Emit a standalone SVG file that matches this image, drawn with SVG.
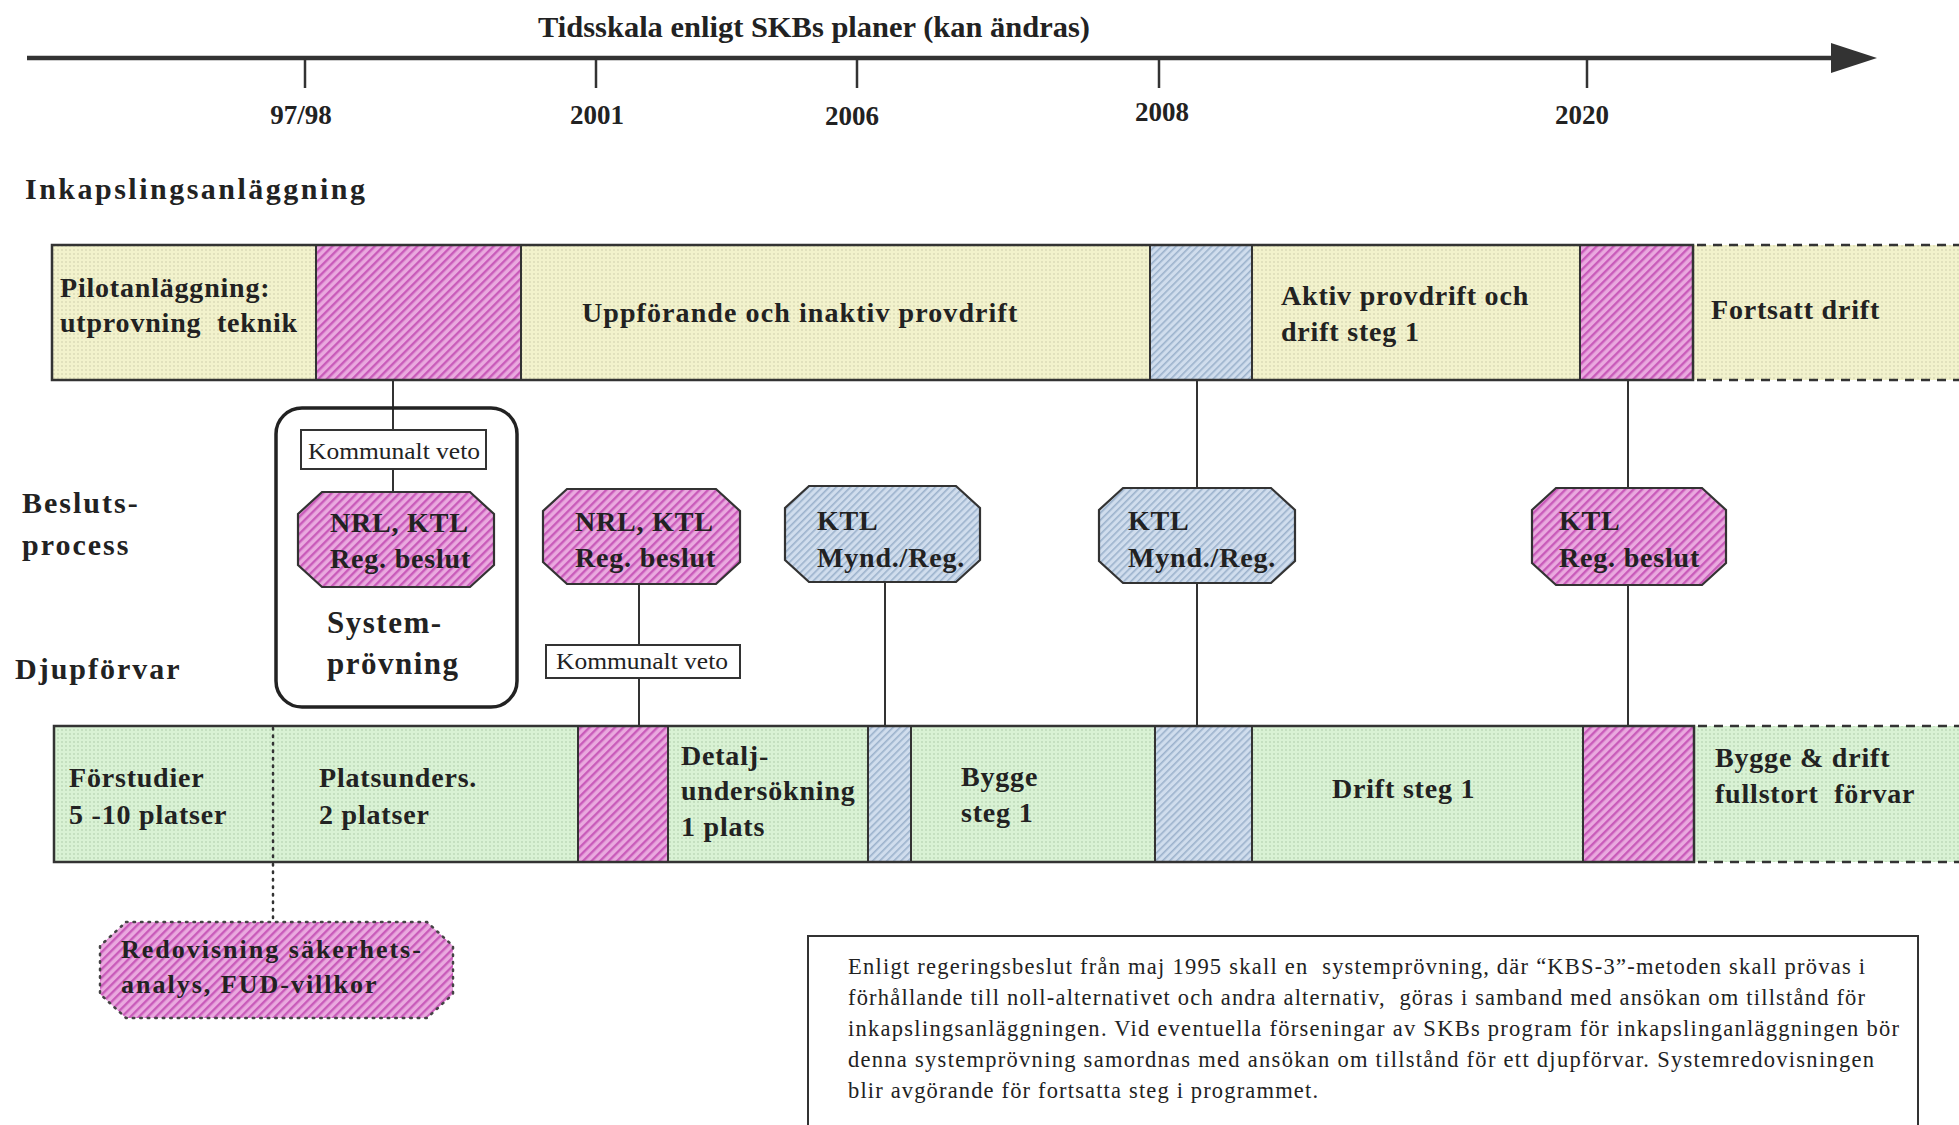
<svg xmlns="http://www.w3.org/2000/svg" width="1959" height="1125" viewBox="0 0 1959 1125">
<defs>
<pattern id="pinkH" width="6" height="6" patternUnits="userSpaceOnUse" patternTransform="rotate(45)">
<rect width="6" height="6" fill="#eaa9df"/>
<rect width="2.4" height="6" fill="#c95bba"/>
</pattern>
<pattern id="blueH" width="5" height="5" patternUnits="userSpaceOnUse" patternTransform="rotate(45)">
<rect width="5" height="5" fill="#d0dded"/>
<rect width="1.6" height="5" fill="#9cb2cc"/>
</pattern>
<pattern id="yelD" width="4" height="4" patternUnits="userSpaceOnUse">
<rect width="4" height="4" fill="#f2f2cc"/>
<circle cx="2" cy="2" r="0.7" fill="#c4c4a2"/>
</pattern>
<pattern id="grnD" width="4" height="4" patternUnits="userSpaceOnUse">
<rect width="4" height="4" fill="#d9f2d4"/>
<circle cx="2" cy="2" r="0.7" fill="#a2c29e"/>
</pattern>
<style>
text{font-family:"Liberation Serif","Times New Roman",serif;fill:#222}
.b{font-weight:bold}
.lab{font-size:28px;font-weight:bold;letter-spacing:0.8px}
.yr{font-size:27px;font-weight:bold;text-anchor:middle}
.side{font-size:30px;font-weight:bold;letter-spacing:2px}
.veto{font-size:24px;text-anchor:middle}
.note{font-size:22.5px}
.ln{stroke:#333;stroke-width:2;fill:none}
.div{stroke:#333;stroke-width:2}
.oct{stroke:#333;stroke-width:2.2}
.pink{fill:url(#pinkH)}
.blue{fill:url(#blueH)}
.yel{fill:url(#yelD)}
.grn{fill:url(#grnD)}
.dash{stroke:#333;stroke-width:2.5;stroke-dasharray:9 7;fill:none}
</style>
</defs>
<rect width="1959" height="1125" fill="#ffffff"/>

<g id="timeline">
<text x="814" y="37" class="b" font-size="29" text-anchor="middle" textLength="552" lengthAdjust="spacingAndGlyphs">Tidsskala enligt SKBs planer (kan ändras)</text>
<line x1="27" y1="58" x2="1836" y2="58" stroke="#333" stroke-width="4.5"/>
<polygon points="1831,43 1877,58 1831,73" fill="#333"/>
<g stroke="#333" stroke-width="2.5">
<line x1="305" y1="58" x2="305" y2="88"/>
<line x1="596" y1="58" x2="596" y2="88"/>
<line x1="857" y1="58" x2="857" y2="88"/>
<line x1="1159" y1="58" x2="1159" y2="88"/>
<line x1="1587" y1="58" x2="1587" y2="88"/>
</g>
<text x="301" y="124" class="yr">97/98</text>
<text x="597" y="124" class="yr">2001</text>
<text x="852" y="125" class="yr">2006</text>
<text x="1162" y="121" class="yr">2008</text>
<text x="1582" y="124" class="yr">2020</text>
</g>

<g id="row-labels">
<text x="25" y="199" class="b" font-size="30" textLength="340" lengthAdjust="spacing">Inkapslingsanläggning</text>
<text x="22" y="513" class="side">Besluts-</text>
<text x="22" y="555" class="side">process</text>
<text x="15" y="679" class="side">Djupförvar</text>
</g>

<g id="connectors">
<line class="ln" x1="393" y1="381" x2="393" y2="430"/>
<line class="ln" x1="393" y1="469" x2="393" y2="492"/>
<line class="ln" x1="1197" y1="381" x2="1197" y2="488"/>
<line class="ln" x1="1628" y1="381" x2="1628" y2="488"/>
<line class="ln" x1="639" y1="584" x2="639" y2="645"/>
<line class="ln" x1="639" y1="678" x2="639" y2="726"/>
<line class="ln" x1="885" y1="582" x2="885" y2="726"/>
<line class="ln" x1="1197" y1="583" x2="1197" y2="726"/>
<line class="ln" x1="1628" y1="585" x2="1628" y2="726"/>
<line x1="273" y1="864" x2="273" y2="921" stroke="#333" stroke-width="2.5" stroke-dasharray="1.5 6" stroke-linecap="round"/>
</g>

<g id="inkapsling-bar">
<rect x="52" y="245" width="264" height="135" class="yel"/>
<rect x="316" y="245" width="205" height="135" class="pink"/>
<rect x="521" y="245" width="629" height="135" class="yel"/>
<rect x="1150" y="245" width="102" height="135" class="blue"/>
<rect x="1252" y="245" width="328" height="135" class="yel"/>
<rect x="1580" y="245" width="113" height="135" class="pink"/>
<rect x="1693" y="245" width="266" height="135" class="yel"/>
<rect x="52" y="245" width="1641" height="135" fill="none" stroke="#333" stroke-width="2.5"/>
<line class="div" x1="316" y1="245" x2="316" y2="380"/>
<line class="div" x1="521" y1="245" x2="521" y2="380"/>
<line class="div" x1="1150" y1="245" x2="1150" y2="380"/>
<line class="div" x1="1252" y1="245" x2="1252" y2="380"/>
<line class="div" x1="1580" y1="245" x2="1580" y2="380"/>
<line class="dash" x1="1697" y1="245" x2="1959" y2="245"/>
<line class="dash" x1="1697" y1="380" x2="1959" y2="380"/>
<text x="60" y="297" class="lab">Pilotanläggning:</text>
<text x="60" y="332" class="lab" xml:space="preserve">utprovning  teknik</text>
<text x="582" y="322" class="lab" textLength="436" lengthAdjust="spacing">Uppförande och inaktiv provdrift</text>
<text x="1281" y="305" class="lab">Aktiv provdrift och</text>
<text x="1281" y="341" class="lab">drift steg 1</text>
<text x="1711" y="319" class="lab">Fortsatt drift</text>
</g>

<g id="systemprovning">
<rect x="276" y="408" width="241" height="299" rx="26" fill="none" stroke="#222" stroke-width="3.5"/>
<text x="327" y="633" class="b" font-size="31" letter-spacing="1.5">System-</text>
<text x="327" y="674" class="b" font-size="31" letter-spacing="1.5">prövning</text>
</g>

<g id="veto-1">
<rect x="301" y="430" width="185" height="39" fill="#fff" stroke="#333" stroke-width="2"/>
<text x="394" y="459" class="veto" textLength="172" lengthAdjust="spacingAndGlyphs">Kommunalt veto</text>
</g>

<g id="beslut-1">
<polygon class="oct pink" points="322,492 470,492 494,514 494,565 470,587 322,587 298,565 298,514"/>
<text x="330" y="532" class="lab">NRL, KTL</text>
<text x="330" y="568" class="lab">Reg. beslut</text>
</g>

<g id="beslut-2">
<polygon class="oct pink" points="567,489 716,489 740,511 740,562 716,584 567,584 543,562 543,511"/>
<text x="575" y="531" class="lab">NRL, KTL</text>
<text x="575" y="567" class="lab">Reg. beslut</text>
</g>

<g id="veto-2">
<rect x="546" y="645" width="194" height="33" fill="#fff" stroke="#333" stroke-width="2"/>
<text x="642" y="669" class="veto" textLength="172" lengthAdjust="spacingAndGlyphs">Kommunalt veto</text>
</g>

<g id="ktl-1">
<polygon class="oct blue" points="809,486 956,486 980,508 980,560 956,582 809,582 785,560 785,508"/>
<text x="817" y="530" class="lab">KTL</text>
<text x="817" y="567" class="lab">Mynd./Reg.</text>
</g>

<g id="ktl-2">
<polygon class="oct blue" points="1123,488 1271,488 1295,510 1295,561 1271,583 1123,583 1099,561 1099,510"/>
<text x="1128" y="530" class="lab">KTL</text>
<text x="1128" y="567" class="lab">Mynd./Reg.</text>
</g>

<g id="ktl-3">
<polygon class="oct pink" points="1556,488 1702,488 1726,510 1726,563 1702,585 1556,585 1532,563 1532,510"/>
<text x="1559" y="530" class="lab">KTL</text>
<text x="1559" y="567" class="lab">Reg. beslut</text>
</g>

<g id="djupforvar-bar">
<rect x="54" y="726" width="524" height="136" class="grn"/>
<rect x="578" y="726" width="90" height="136" class="pink"/>
<rect x="668" y="726" width="200" height="136" class="grn"/>
<rect x="868" y="726" width="43" height="136" class="blue"/>
<rect x="911" y="726" width="244" height="136" class="grn"/>
<rect x="1155" y="726" width="97" height="136" class="blue"/>
<rect x="1252" y="726" width="331" height="136" class="grn"/>
<rect x="1583" y="726" width="111" height="136" class="pink"/>
<rect x="1694" y="726" width="265" height="136" class="grn"/>
<rect x="54" y="726" width="1640" height="136" fill="none" stroke="#333" stroke-width="2.5"/>
<line x1="273" y1="728" x2="273" y2="860" stroke="#333" stroke-width="2.5" stroke-dasharray="1.5 6" stroke-linecap="round"/>
<line class="div" x1="578" y1="726" x2="578" y2="862"/>
<line class="div" x1="668" y1="726" x2="668" y2="862"/>
<line class="div" x1="868" y1="726" x2="868" y2="862"/>
<line class="div" x1="911" y1="726" x2="911" y2="862"/>
<line class="div" x1="1155" y1="726" x2="1155" y2="862"/>
<line class="div" x1="1252" y1="726" x2="1252" y2="862"/>
<line class="div" x1="1583" y1="726" x2="1583" y2="862"/>
<line class="dash" x1="1698" y1="726" x2="1959" y2="726"/>
<line class="dash" x1="1698" y1="862" x2="1959" y2="862"/>
<text x="69" y="787" class="lab">Förstudier</text>
<text x="69" y="824" class="lab">5 -10 platser</text>
<text x="319" y="787" class="lab">Platsunders.</text>
<text x="319" y="824" class="lab">2 platser</text>
<text x="681" y="765" class="lab">Detalj-</text>
<text x="681" y="800" class="lab">undersökning</text>
<text x="681" y="836" class="lab">1 plats</text>
<text x="961" y="786" class="lab">Bygge</text>
<text x="961" y="822" class="lab">steg 1</text>
<text x="1332" y="798" class="lab">Drift steg 1</text>
<text x="1715" y="767" class="lab">Bygge &amp; drift</text>
<text x="1715" y="803" class="lab" xml:space="preserve">fullstort  förvar</text>
</g>

<g id="redovisning">
<polygon points="126,922 427,922 453,946 453,994 427,1018 126,1018 100,994 100,946" class="pink" stroke="#444" stroke-width="2.5" stroke-dasharray="1.5 6" stroke-linecap="round"/>
<text x="121" y="958" class="b" font-size="26" letter-spacing="2">Redovisning säkerhets-</text>
<text x="121" y="993" class="b" font-size="26" letter-spacing="2">analys, FUD-villkor</text>
</g>

<g id="note">
<rect x="808" y="936" width="1110" height="194" fill="#fff" stroke="#333" stroke-width="2"/>
<text x="848" y="974" class="note" textLength="1017" lengthAdjust="spacing" xml:space="preserve">Enligt regeringsbeslut från maj 1995 skall en  systemprövning, där “KBS-3”-metoden skall prövas i</text>
<text x="848" y="1005" class="note" textLength="1017" lengthAdjust="spacing" xml:space="preserve">förhållande till noll-alternativet och andra alternativ,  göras i samband med ansökan om tillstånd för</text>
<text x="848" y="1036" class="note" textLength="1051" lengthAdjust="spacing">inkapslingsanläggningen. Vid eventuella förseningar av SKBs program för inkapslinganläggningen bör</text>
<text x="848" y="1067" class="note" textLength="1026" lengthAdjust="spacing">denna systemprövning samordnas med ansökan om tillstånd för ett djupförvar. Systemredovisningen</text>
<text x="848" y="1098" class="note" textLength="470" lengthAdjust="spacing">blir avgörande för fortsatta steg i programmet.</text>
</g>
</svg>
